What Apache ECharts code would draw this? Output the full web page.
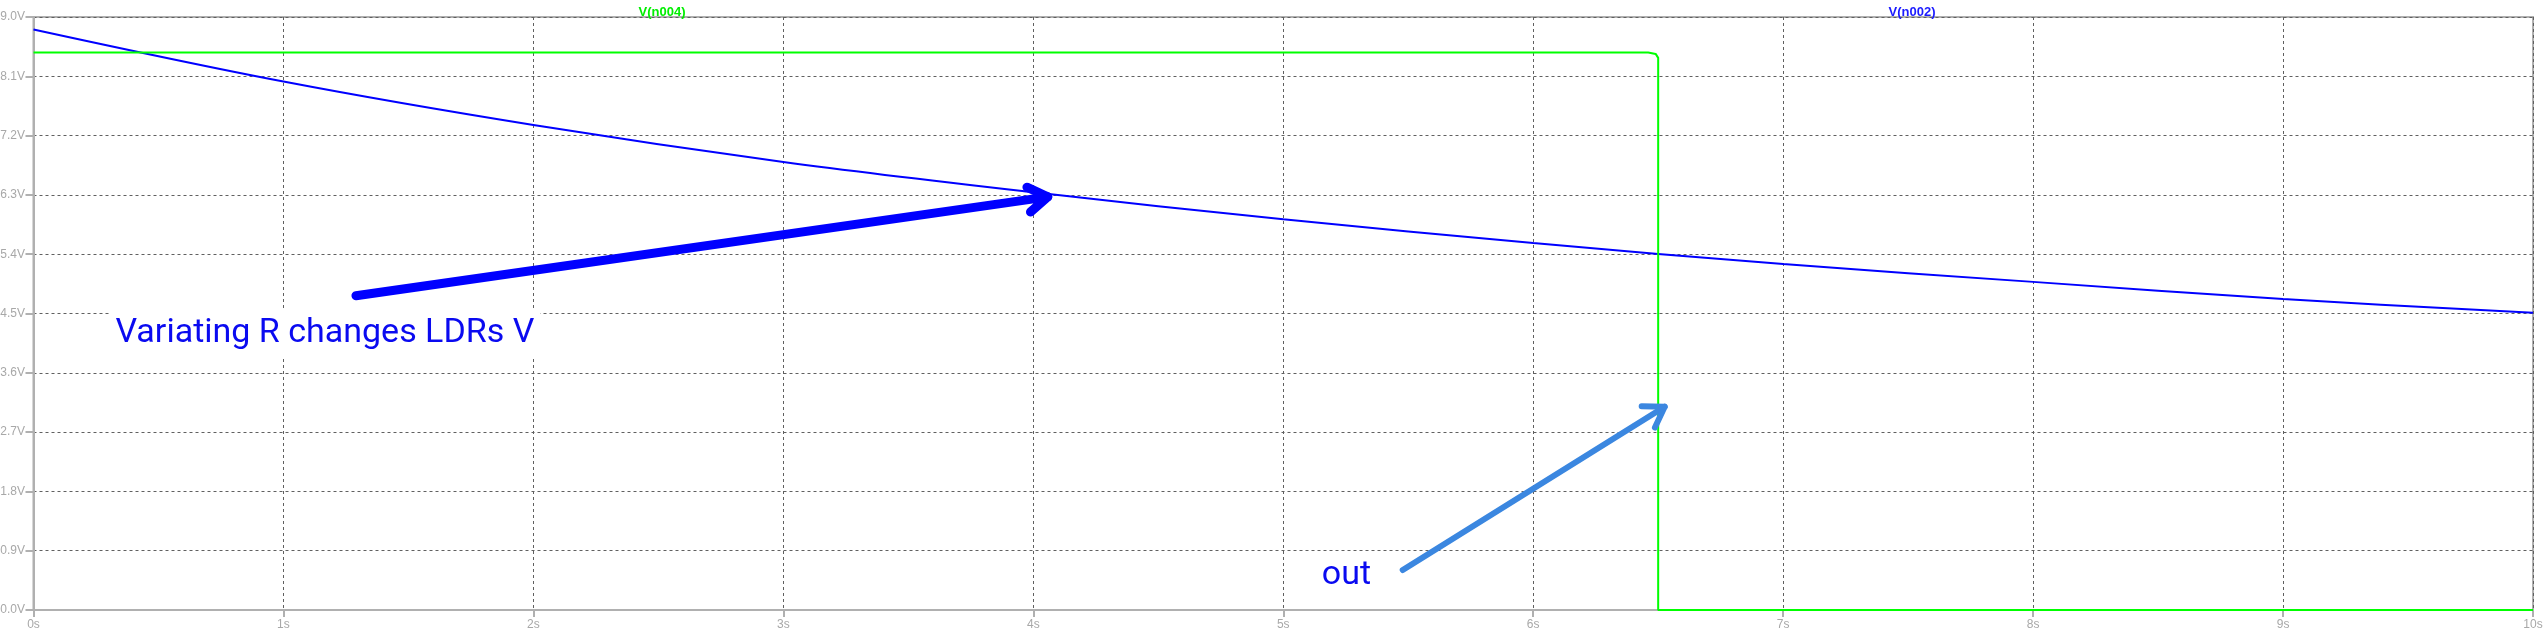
<!DOCTYPE html>
<html>
<head>
<meta charset="utf-8">
<script src="https://cdn.jsdelivr.net/npm/echarts@6/dist/echarts.min.js"></script>
<style>
html,body{margin:0;padding:0;background:#fff;}
#chart{width:2544px;height:634px;}
</style>
</head>
<body>
<div id="chart"></div>
<script>
// ---- data (seconds, volts) ----
const seriesNames = ['V(n004)', 'V(n002)'];
const n004 = [[0, 8.46], [6.46, 8.46], [6.49, 8.44], [6.5, 8.38], [6.5, 0], [10, 0]];
const n002 = [[0, 8.81], [1, 8.02], [2, 7.36], [3, 6.80], [4, 6.34], [5, 5.93],
              [6, 5.57], [7, 5.25], [8, 4.98], [9, 4.72], [10, 4.51]];
const xTicks = [0, 1, 2, 3, 4, 5, 6, 7, 8, 9, 10];
const yTicks = [0, 0.9, 1.8, 2.7, 3.6, 4.5, 5.4, 6.3, 7.2, 8.1, 9.0];
// annotation arrows: [x tail, y tail, x tip, y tip]
const arrows = [[1.29, 4.77, 4.058, 6.27], [5.478, 0.607, 6.526, 3.085]];
const noteTexts = ['Variating R changes LDRs V', 'out'];
const notePos = [[0.308, 4.19], [5.138, 0.53]];

const chart = echarts.init(document.getElementById('chart'), null, {renderer: 'canvas'});
const axisGray = '#b0b0b0';
const labelGray = '#a8a8a8';
const arrowColors = ['#0000ff', '#3b87e0'];
const arrowWidths = [9, 6];

function arrowItem(params, api) {
  const i = params.dataIndex;
  const p1 = api.coord([api.value(0), api.value(1)]);
  const p2 = api.coord([api.value(2), api.value(3)]);
  const ang = Math.atan2(p1[1] - p2[1], p1[0] - p2[0]);
  const L = 23, spread = 33 * Math.PI / 180;
  const a = [p2[0] + L * Math.cos(ang + spread), p2[1] + L * Math.sin(ang + spread)];
  const b = [p2[0] + L * Math.cos(ang - spread), p2[1] + L * Math.sin(ang - spread)];
  const st = {stroke: arrowColors[i], lineWidth: arrowWidths[i], lineCap: 'round', lineJoin: 'round', fill: null};
  return {
    type: 'group',
    children: [
      {type: 'polyline', shape: {points: [p1, p2]}, style: st},
      {type: 'polyline', shape: {points: [a, p2, b]}, style: st}
    ]
  };
}
function noteItem(params, api) {
  const i = params.dataIndex;
  const p = api.coord([api.value(0), api.value(1)]);
  return {
    type: 'text',
    x: p[0], y: p[1],
    style: {
      text: noteTexts[i],
      font: '34px Roboto',
      fill: '#0a0af0',
      align: 'left',
      verticalAlign: 'middle',
      backgroundColor: '#ffffff',
      padding: i === 0 ? [8, 6, 8, 5] : [4, 4, 4, 4]
    }
  };
}

chart.setOption({
  animation: false,
  backgroundColor: '#ffffff',
  textStyle: {fontFamily: 'Liberation Sans'},
  grid: {left: 33.5, right: 11, top: 17, bottom: 24, containLabel: false, outerBoundsMode: 'none',
         show: true, borderColor: axisGray, borderWidth: 2, backgroundColor: 'transparent'},
  title: [
    {text: seriesNames[0], left: 657, top: 1, textAlign: 'center', textStyle: {color: '#00ee00', fontSize: 13, fontWeight: 'bold'}},
    {text: seriesNames[1], left: 1907, top: 1, textAlign: 'center', textStyle: {color: '#1a1aff', fontSize: 13, fontWeight: 'bold'}}
  ],
  xAxis: {
    type: 'value', min: xTicks[0], max: xTicks[xTicks.length - 1], interval: 1,
    axisLine: {show: true, lineStyle: {color: axisGray, width: 2}},
    axisTick: {show: true, length: 7, lineStyle: {color: axisGray, width: 2}},
    axisLabel: {color: labelGray, fontSize: 12, margin: 9, showMinLabel: true, showMaxLabel: true,
                hideOverlap: false, formatter: v => v + 's'},
    splitLine: {show: true, lineStyle: {color: '#606060', width: 1, type: [3, 3]}}
  },
  yAxis: {
    type: 'value', min: yTicks[0], max: yTicks[yTicks.length - 1], interval: 0.9,
    axisLine: {show: true, lineStyle: {color: axisGray, width: 2}},
    axisTick: {show: true, length: 8, lineStyle: {color: axisGray, width: 2}},
    axisLabel: {color: labelGray, fontSize: 12, margin: 8.5, showMinLabel: true, showMaxLabel: true,
                hideOverlap: false, formatter: v => v.toFixed(1) + 'V'},
    splitLine: {show: true, lineStyle: {color: '#606060', width: 1, type: [3, 3]}}
  },
  series: [
    {name: seriesNames[1], type: 'line', data: n002, showSymbol: false, smooth: 0.35,
     lineStyle: {color: '#0000ff', width: 2}, z: 3},
    {name: seriesNames[0], type: 'line', data: n004, showSymbol: false,
     lineStyle: {color: '#00ff00', width: 2}, z: 4},
    {type: 'custom', data: notePos, renderItem: noteItem, clip: false, z: 5, silent: true},
    {type: 'custom', data: arrows, renderItem: arrowItem, clip: false, z: 6, silent: true,
     encode: {x: [0, 2], y: [1, 3]}}
  ]
});
</script>
</body>
</html>
